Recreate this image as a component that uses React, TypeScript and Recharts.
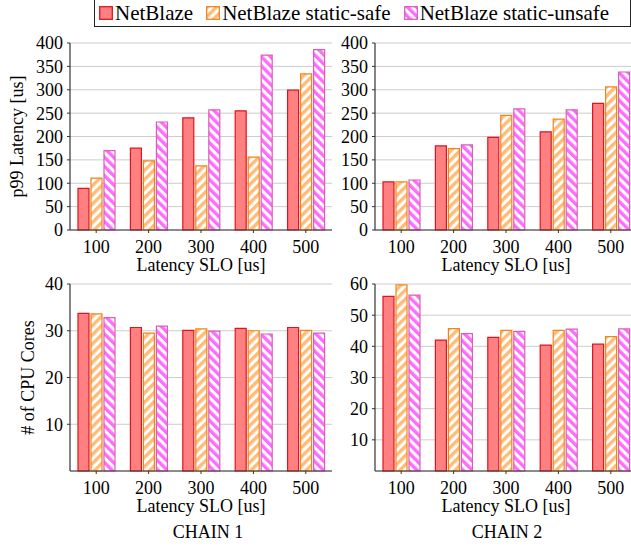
import { BarChart, Bar, XAxis, YAxis, CartesianGrid, Label } from 'recharts';

const sloLevels = ['100', '200', '300', '400', '500'];
const seriesNames = ['NetBlaze', 'NetBlaze static-safe', 'NetBlaze static-unsafe'];

const chain1LatencyBase = [89, 175, 240, 255, 299];
const chain1LatencySafe = [111, 148, 137, 156, 334];
const chain1LatencyUnsafe = [170, 231, 257, 374, 386];
const chain2LatencyBase = [103, 180, 198, 210, 271];
const chain2LatencySafe = [103, 174, 245, 237, 306];
const chain2LatencyUnsafe = [107, 182, 259, 257, 338];

const chain1CoresBase = [33.7, 30.7, 30.1, 30.5, 30.7];
const chain1CoresSafe = [33.6, 29.5, 30.4, 30.0, 30.1];
const chain1CoresUnsafe = [32.8, 31.0, 29.9, 29.3, 29.5];
const chain2CoresBase = [56.0, 42.0, 42.9, 40.4, 40.7];
const chain2CoresSafe = [59.7, 45.7, 45.1, 45.1, 43.1];
const chain2CoresUnsafe = [56.4, 44.1, 44.8, 45.5, 45.6];

const latencyTicks = [0, 50, 100, 150, 200, 250, 300, 350, 400];
const chain1CoreTicks = [10, 20, 30, 40];
const chain2CoreTicks = [10, 20, 30, 40, 50, 60];
const chainLabels = ['CHAIN 1', 'CHAIN 2'];

const seriesKeys = ['base', 'safe', 'unsafe'];
const seriesStyles = [
  { fill: '#ff8080', stroke: '#e0141e' },
  { fill: 'url(#stripeSafe)', stroke: '#f0861a' },
  { fill: 'url(#stripeUnsafe)', stroke: '#d95fb5' },
];

const makeRows = (base: number[], safe: number[], unsafe: number[]) =>
  sloLevels.map((slo, i) => ({ slo, base: base[i], safe: safe[i], unsafe: unsafe[i] }));

const serif = '"Liberation Serif", "Times New Roman", serif';
const axisStroke = { stroke: '#333', strokeWidth: 1.2 };
const frameStroke = { stroke: '#555', strokeWidth: 1.2 };
const titleStyle = { fontSize: 18, fill: '#000', fontFamily: serif };

// custom tick so the serif font is applied for sure
const XTick = ({ x, y, payload }: any) => (
  <text x={x} y={y} dy="0.71em" textAnchor="middle" style={titleStyle}>
    {payload.value}
  </text>
);
const YTick = ({ x, y, payload }: any) => (
  <text x={x} y={y} dy="0.355em" textAnchor="end" style={titleStyle}>
    {payload.value}
  </text>
);

interface PanelProps {
  left: number;
  top: number;
  rows: Array<Record<string, string | number>>;
  ticks: number[];
  yMax: number;
  yLabel?: string;
  labelOffset?: number;
}

function Panel({ left, top, rows, ticks, yMax, yLabel, labelOffset = 17 }: PanelProps) {
  return (
    <div style={{ position: 'absolute', left, top }}>
      <BarChart
        width={342}
        height={275}
        data={rows}
        margin={{ top: 43, right: 10, bottom: 0, left: 0 }}
        barSize={11}
        barGap={2}
      >
        <CartesianGrid vertical={false} stroke="#cccccc" />
        <XAxis
          dataKey="slo"
          interval={0}
          tickSize={3}
          tickMargin={7}
          height={45}
          tick={<XTick />}
          axisLine={axisStroke}
          tickLine={{ stroke: '#333' }}
        >
          <Label value="Latency SLO [us]" position="insideBottom" offset={4} style={titleStyle} />
        </XAxis>
        <XAxis
          xAxisId="top"
          dataKey="slo"
          orientation="top"
          height={0}
          tick={false}
          tickLine={false}
          axisLine={frameStroke}
        />
        <YAxis
          width={70}
          domain={[0, yMax]}
          ticks={ticks}
          interval={0}
          tickSize={3}
          tickMargin={4}
          tick={<YTick />}
          axisLine={axisStroke}
          tickLine={{ stroke: '#333' }}
        >
          {yLabel && (
            <Label
              value={yLabel}
              angle={-90}
              position="insideLeft"
              offset={labelOffset}
              style={{ ...titleStyle, textAnchor: 'middle' }}
            />
          )}
        </YAxis>
        <YAxis
          yAxisId="right"
          orientation="right"
          width={0}
          domain={[0, 1]}
          tick={false}
          tickLine={false}
          axisLine={frameStroke}
        />
        {seriesKeys.map((k, i) => (
          <Bar
            key={k}
            dataKey={k}
            name={seriesNames[i]}
            fill={seriesStyles[i].fill}
            stroke={seriesStyles[i].stroke}
            strokeWidth={1.2}
            isAnimationActive={false}
          />
        ))}
      </BarChart>
    </div>
  );
}

export default function App() {
  return (
    <div
      style={{
        position: 'absolute',
        left: 0,
        top: 0,
        width: 631,
        height: 546,
        overflow: 'hidden',
        background: '#fff',
        fontFamily: serif,
      }}
    >
      <svg width={0} height={0} style={{ position: 'absolute' }}>
        <defs>
          <pattern id="stripeSafe" width={6.5} height={6.5} patternUnits="userSpaceOnUse" patternTransform="rotate(45)">
            <rect width={6.5} height={6.5} fill="#fff" />
            <rect width={3.4} height={6.5} fill="#ffbb78" />
          </pattern>
          <pattern id="stripeUnsafe" width={6.5} height={6.5} patternUnits="userSpaceOnUse" patternTransform="rotate(-45)">
            <rect width={6.5} height={6.5} fill="#fff" />
            <rect width={3.4} height={6.5} fill="#ff6bff" />
          </pattern>
        </defs>
      </svg>

      <div
        style={{
          position: 'absolute',
          left: 94,
          top: -1,
          width: 537,
          height: 28,
          boxSizing: 'border-box',
          border: '1.3px solid #222',
          display: 'flex',
          alignItems: 'center',
          paddingLeft: 4,
          fontSize: 21,
          whiteSpace: 'nowrap',
        }}
      >
        {seriesNames.map((name, i) => (
          <div key={name} style={{ display: 'flex', alignItems: 'center', marginRight: 13 }}>
            <svg width={14} height={14} style={{ display: 'block' }}>
              <rect x={0.7} y={0.7} width={12.6} height={12.6} fill={seriesStyles[i].fill} stroke={seriesStyles[i].stroke} strokeWidth={1.3} />
            </svg>
            <span style={{ marginLeft: 2 }}>{name}</span>
          </div>
        ))}
      </div>

      <Panel left={0} top={0} rows={makeRows(chain1LatencyBase, chain1LatencySafe, chain1LatencyUnsafe)} ticks={latencyTicks} yMax={400} yLabel="p99 Latency [us]" labelOffset={17} />
      <Panel left={305} top={0} rows={makeRows(chain2LatencyBase, chain2LatencySafe, chain2LatencyUnsafe)} ticks={latencyTicks} yMax={400} />
      <Panel left={0} top={241} rows={makeRows(chain1CoresBase, chain1CoresSafe, chain1CoresUnsafe)} ticks={chain1CoreTicks} yMax={40} yLabel="# of CPU Cores" labelOffset={28} />
      <Panel left={305} top={241} rows={makeRows(chain2CoresBase, chain2CoresSafe, chain2CoresUnsafe)} ticks={chain2CoreTicks} yMax={60} />

      {chainLabels.map((label, i) => (
        <div
          key={label}
          style={{
            position: 'absolute',
            left: i === 0 ? 158 : 457,
            top: 522,
            width: 100,
            textAlign: 'center',
            fontSize: 18,
            lineHeight: '20px',
          }}
        >
          {label}
        </div>
      ))}
    </div>
  );
}
